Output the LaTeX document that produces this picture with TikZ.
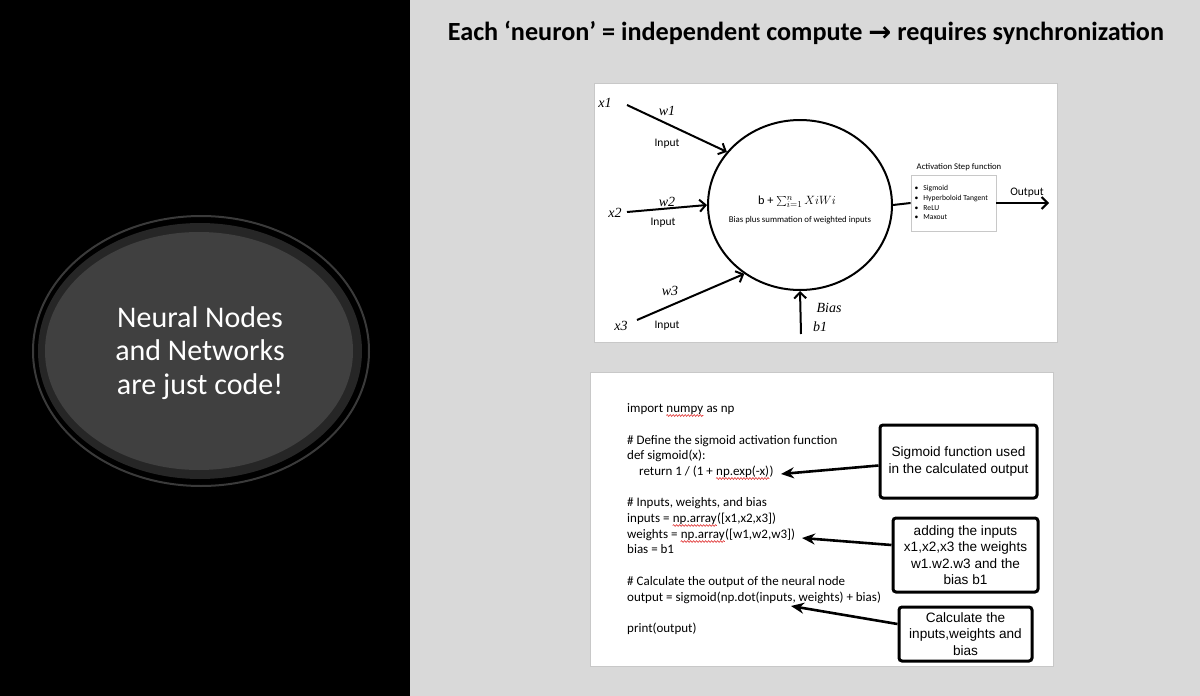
\documentclass[tikz,border=0pt]{standalone}
\usepackage{fontspec}
\setmainfont{Carlito}
\newfontfamily\arialf{Liberation Sans}
\newfontfamily\djv{DejaVu Sans}
\newfontfamily\serifv{Liberation Serif}
\usetikzlibrary{shapes.geometric,arrows.meta,decorations.pathmorphing}
\definecolor{panelgray}{HTML}{D9D9D9}
\definecolor{ringline}{HTML}{3A3A3A}
\definecolor{ringband}{HTML}{262626}
\definecolor{ovalfill}{HTML}{404040}
\definecolor{panelborder}{HTML}{C8C8C8}
\definecolor{squig}{HTML}{E03030}
\tikzset{
  codeline/.style={anchor=base west, inner sep=0pt, font=\fontsize{13}{15}\selectfont},
  squiggle/.style={draw=squig, line width=0.6pt, decorate, decoration={snake, amplitude=0.9pt, segment length=3pt}},
  calloutbox/.style={draw=black, line width=3pt, rounded corners=3pt, fill=white, align=center,
     font=\arialf\fontsize{13.6}{16.5}\selectfont, inner sep=0pt},
  callarrow/.style={line width=2.6pt, -{Stealth[length=13pt,width=11pt]}},
  neuarrow/.style={line width=2pt, -{Straight Barb[length=6pt,width=12pt,line width=2pt]}},
  varlab/.style={font=\serifv\fontsize{14}{16}\selectfont\itshape, inner sep=0pt},
  inlab/.style={font=\fontsize{11.5}{13}\selectfont, inner sep=0pt},
  bulletitem/.style={anchor=west, inner sep=0pt, font=\fontsize{7.6}{9}\selectfont},
}
\begin{document}
\begin{tikzpicture}[x=1pt,y=-1pt]
\useasboundingbox (0,0) rectangle (1200,696);
% backgrounds
\fill[black] (0,0) rectangle (410,696);
\fill[panelgray] (410,0) rectangle (1200,696);
% left oval
\draw[ringline, line width=2pt, fill=black] (201,351) ellipse [x radius=168, y radius=135];
\fill[ringband] (200,351) ellipse [x radius=162, y radius=128];
\fill[ovalfill] (199,351) ellipse [x radius=154, y radius=119];
\node[text=white, align=center, font=\fontsize{30}{33.5}\selectfont] (oval) at (200,353)
  {Neural Nodes\\and Networks\\are just code!};
% title
\node[font=\fontsize{26.2}{30}\bfseries, inner sep=0pt] (title) at (806,33)
  {Each ‘neuron’ = independent compute {\djv\fontsize{27.5}{30}\selectfont\bfseries\raisebox{-1pt}{→}} requires synchronization};
% neuron panel
\draw[panelborder, fill=white, line width=0.8pt] (594,83) rectangle (1057,342);
\node[ellipse, draw, line width=2pt, minimum width=184pt, minimum height=170pt, inner sep=0pt] (neuron) at (800,205) {};
\node[inner sep=0pt, font=\fontsize{12.3}{14}\selectfont] (formula) at (797,202)
  {b + $\textstyle\sum_{i=1}^{n} XiWi$};
\node[inner sep=0pt, font=\fontsize{8.8}{10}\selectfont] (formdesc) at (800,220) {Bias plus summation of weighted inputs};
% inputs
\coordinate (s1) at (627,105);
\coordinate (s2) at (627,212);
\coordinate (s3) at (637,320);
\coordinate (sb) at (801,334);
\draw[neuarrow] (s1) -- (neuron.144);
\draw[neuarrow] (s2) -- (neuron.180);
\draw[neuarrow] (s3) -- (neuron.231);
\draw[neuarrow] (sb) -- (neuron.270);
\node[varlab] (x1) at (605,103) {x1};
\node[varlab] (w1) at (667,111) {w1};
\node[inlab] (in1) at (667,144) {Input};
\node[varlab] (x2) at (615,213) {x2};
\node[varlab] (w2) at (667,202) {w2};
\node[inlab] (in2) at (663,223) {Input};
\node[varlab] (w3) at (670,291) {w3};
\node[varlab] (x3) at (621,326) {x3};
\node[inlab] (in3) at (667,326) {Input};
\node[varlab] (bias) at (829,308) {Bias};
\node[varlab] (b1) at (820,327) {b1};
% activation box
\node[draw=panelborder, line width=0.8pt, minimum width=85pt, minimum height=56pt, inner sep=0pt] (act) at (953.5,203) {};
\node[inner sep=0pt, font=\fontsize{8.7}{10}\selectfont] (acttitle) at (959,167) {Activation Step function};
\node[bulletitem] (i1) at (914.5,189) {\textbullet\hspace{5pt}Sigmoid};
\node[bulletitem] (i2) at (914.5,198.3) {\textbullet\hspace{5pt}Hyperboloid Tangent};
\node[bulletitem] (i3) at (914.5,207.6) {\textbullet\hspace{5pt}ReLU};
\node[bulletitem] (i4) at (914.5,217) {\textbullet\hspace{5pt}Maxout};
\draw[line width=2pt] (neuron.east) -- (act.west);
\coordinate (outend) at (1049,203);
\draw[neuarrow] (act.east) -- (outend);
\node[inlab] (outlab) at (1027,193) {Output};
% code panel
\draw[panelborder, fill=white, line width=0.8pt] (590,372) rectangle (1053,666);
\node[codeline] (c1) at (627,412) {import\ \null};
\node[codeline] (c1b) at (c1.base east) {numpy};
\node[codeline] (c1c) at (c1b.base east) {\ as np};
\node[codeline] (c2) at (627,444) {\# Define the sigmoid activation function};
\node[codeline] (c3) at (627,459.5) {def sigmoid(x):};
\node[codeline] (c4) at (639,475) {return 1 / (1 +\ \null};
\node[codeline] (c4b) at (c4.base east) {np.exp(-x)};
\node[codeline] (c4c) at (c4b.base east) {)};
\node[codeline] (c5) at (627,506.5) {\# Inputs, weights, and bias};
\node[codeline] (c6) at (627,522) {inputs =\ \null};
\node[codeline] (c6b) at (c6.base east) {np.array};
\node[codeline] (c6c) at (c6b.base east) {([x1,x2,x3])};
\node[codeline] (c7) at (627,538) {weights =\ \null};
\node[codeline] (c7b) at (c7.base east) {np.array};
\node[codeline] (c7c) at (c7b.base east) {([w1,w2,w3])};
\node[codeline] (c8) at (627,553.5) {bias = b1};
\node[codeline] (c9) at (627,585) {\# Calculate the output of the neural node};
\node[codeline] (c10) at (627,601) {output = sigmoid(np.dot(inputs, weights) + bias)};
\node[codeline] (c11) at (627,632) {print(output)};
\foreach \w in {c1b,c4b,c6b,c7b}
  \draw[squiggle] ([yshift=-3.5pt]\w.base west) -- ([yshift=-3.5pt]\w.base east);
% callouts
\node[calloutbox, minimum width=157pt, minimum height=73pt] (cb1) at (958.5,461.5)
  {Sigmoid function used\\in the calculated output};
\node[calloutbox, minimum width=145pt, minimum height=74pt] (cb2) at (965.5,555)
  {adding the inputs\\x1,x2,x3 the weights\\w1.w2.w3 and the\\bias b1};
\node[calloutbox, minimum width=133pt, minimum height=54pt] (cb3) at (965.5,634)
  {Calculate the\\inputs,weights and\\bias};
\coordinate (t1) at (781,474);
\coordinate (t2) at (802,538);
\coordinate (t3) at (791,606);
\draw[callarrow] ([yshift=-4pt]cb1.west) -- (t1);
\draw[callarrow] ([yshift=10pt]cb2.west) -- (t2);
\draw[callarrow] ([yshift=10pt]cb3.west) -- (t3);
\end{tikzpicture}
\end{document}
